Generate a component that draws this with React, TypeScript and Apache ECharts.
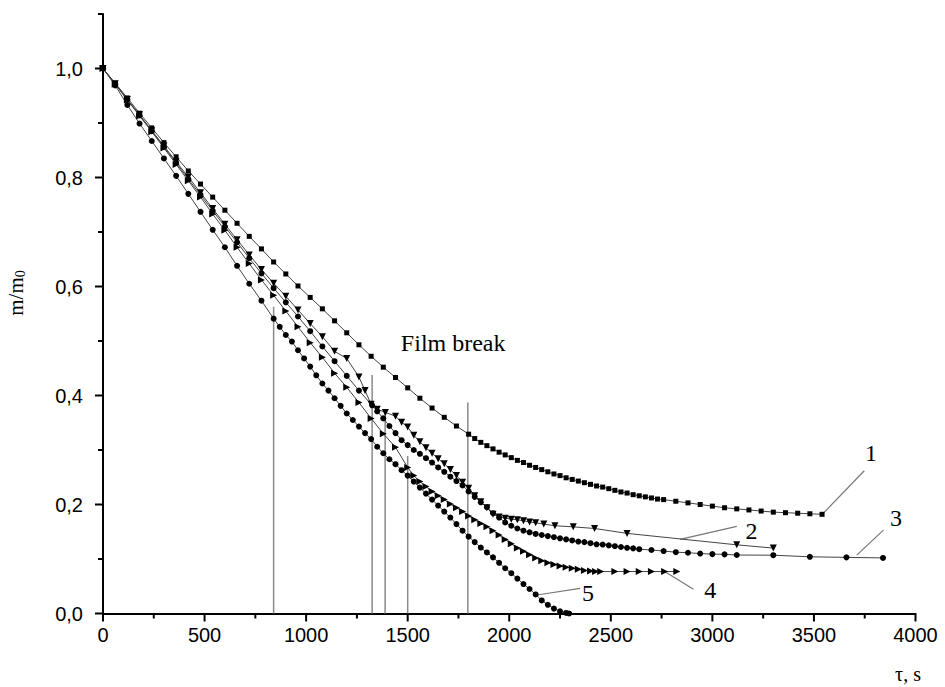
import React, { useEffect, useRef } from "react";
import * as echarts from "echarts";

// ---- data (time, s ; relative mass m/m0) ----
const s1Time = [0, 60, 120, 180, 240, 300, 360, 420, 480, 540, 600, 660, 720, 780, 840, 900, 960, 1020, 1080, 1140, 1200, 1260, 1320, 1380, 1440, 1500, 1560, 1620, 1680, 1740, 1800,
  1830, 1860, 1890, 1920, 1950, 1980, 2010, 2040, 2070, 2100, 2130, 2160, 2190, 2220, 2250, 2280, 2310, 2340, 2370, 2400, 2430, 2460, 2490, 2520, 2550, 2580, 2610, 2640, 2670, 2700, 2730, 2760,
  2820, 2880, 2940, 3000, 3060, 3120, 3180, 3240, 3300, 3360, 3420, 3480, 3540];
const s1Mass = [1.0, 0.973, 0.946, 0.918, 0.891, 0.864, 0.838, 0.812, 0.788, 0.764, 0.740, 0.716, 0.692, 0.669, 0.645, 0.623, 0.601, 0.580, 0.559, 0.537, 0.515, 0.493, 0.472, 0.452, 0.433, 0.414, 0.395, 0.377, 0.360, 0.344, 0.329,
  0.321, 0.314, 0.308, 0.302, 0.296, 0.291, 0.286, 0.281, 0.277, 0.272, 0.268, 0.264, 0.260, 0.256, 0.253, 0.249, 0.246, 0.243, 0.240, 0.237, 0.234, 0.232, 0.229, 0.226, 0.223, 0.221, 0.218, 0.216, 0.214, 0.212, 0.210, 0.209,
  0.206, 0.203, 0.200, 0.197, 0.194, 0.192, 0.190, 0.188, 0.186, 0.185, 0.184, 0.183, 0.182];

const s2Time = [0, 60, 120, 180, 240, 300, 360, 420, 480, 540, 600, 660, 720, 780, 840, 900, 960, 1020, 1080, 1140, 1200, 1260, 1290, 1320, 1350, 1390, 1440, 1470, 1500, 1530, 1560, 1590, 1620, 1650, 1680, 1710, 1740, 1770, 1800, 1830, 1860, 1890, 1920, 1950, 1980, 2010, 2040, 2070, 2100, 2130, 2170, 2225, 2315, 2420, 2580, 3120, 3300];
const s2Mass = [1.0, 0.972, 0.943, 0.915, 0.886, 0.858, 0.829, 0.801, 0.772, 0.743, 0.714, 0.686, 0.658, 0.631, 0.606, 0.582, 0.557, 0.532, 0.508, 0.481, 0.468, 0.434, 0.409, 0.384, 0.375, 0.369, 0.362, 0.351, 0.342, 0.327, 0.315, 0.304, 0.294, 0.284, 0.275, 0.264, 0.253, 0.241, 0.230, 0.216, 0.205, 0.194, 0.182, 0.177, 0.175, 0.173, 0.172, 0.170, 0.168, 0.1665, 0.164, 0.161, 0.159, 0.156, 0.147, 0.126, 0.120];

const s3Time = [0, 60, 120, 180, 240, 300, 360, 420, 480, 540, 600, 660, 720, 780, 840, 900, 960, 1020, 1080, 1140, 1200, 1260, 1325,
  1350, 1380, 1410, 1440, 1470, 1500, 1530, 1560, 1590, 1620, 1650, 1680, 1710, 1740, 1770, 1800, 1830, 1860, 1890, 1920, 1950, 1980, 2010, 2040, 2070, 2100, 2130, 2160, 2190, 2220, 2250, 2280, 2310, 2340, 2370, 2400, 2430, 2460, 2490, 2520, 2550, 2580, 2610, 2640,
  2700, 2760, 2820, 2880, 2940, 3000, 3060, 3120, 3300, 3480, 3660, 3840];
const s3Mass = [1.0, 0.972, 0.943, 0.914, 0.885, 0.856, 0.827, 0.797, 0.768, 0.739, 0.710, 0.681, 0.652, 0.624, 0.597, 0.571, 0.545, 0.518, 0.490, 0.463, 0.436, 0.409, 0.382,
  0.371, 0.358, 0.344, 0.331, 0.318, 0.309, 0.300, 0.293, 0.285, 0.277, 0.268, 0.260, 0.251, 0.243, 0.235, 0.224, 0.214, 0.204, 0.195, 0.184, 0.176, 0.167, 0.161, 0.156, 0.152, 0.149, 0.146, 0.144, 0.142, 0.140, 0.138, 0.136, 0.134, 0.132, 0.131, 0.129, 0.127, 0.1265, 0.125, 0.1235, 0.122, 0.1205, 0.1195, 0.118,
  0.1165, 0.1146, 0.1125, 0.1115, 0.110, 0.109, 0.1085, 0.1073, 0.107, 0.104, 0.103, 0.102];

const s4Time = [0, 60, 120, 180, 240, 300, 360, 420, 480, 540, 600, 660, 720, 780, 840, 900, 960, 1020, 1080, 1140, 1200, 1260, 1320, 1380, 1440, 1500,
  1530, 1560, 1590, 1620, 1650, 1680, 1710, 1740, 1770, 1800, 1830, 1860, 1890, 1920, 1950, 1980, 2010, 2040, 2070, 2100, 2130, 2160, 2190, 2220, 2250, 2280, 2310, 2340, 2370, 2400, 2425, 2450,
  2520, 2580, 2640, 2700, 2765, 2825];
const s4Mass = [1.0, 0.971, 0.942, 0.913, 0.884, 0.854, 0.824, 0.794, 0.764, 0.733, 0.703, 0.672, 0.642, 0.612, 0.584, 0.555, 0.526, 0.497, 0.470, 0.441, 0.415, 0.387, 0.358, 0.330, 0.305, 0.268,
  0.253, 0.242, 0.233, 0.224, 0.216, 0.209, 0.201, 0.194, 0.187, 0.179, 0.172, 0.165, 0.159, 0.152, 0.144, 0.136, 0.128, 0.120, 0.114, 0.108, 0.102, 0.097, 0.093, 0.090, 0.087, 0.085, 0.083, 0.081, 0.079, 0.078, 0.077, 0.077,
  0.077, 0.077, 0.077, 0.077, 0.077, 0.077];

const s5Time = [0, 60, 120, 180, 240, 300, 360, 420, 480, 540, 600, 660, 720, 780, 840,
  870, 900, 930, 960, 990, 1020, 1050, 1080, 1110, 1140, 1170, 1200, 1230, 1260, 1290, 1320, 1350, 1380, 1410, 1440, 1470, 1500, 1530, 1560, 1590, 1620, 1650, 1680, 1710, 1740, 1770, 1800,
  1830, 1860, 1890, 1920, 1950, 1980, 2010, 2040, 2070, 2100, 2130, 2160, 2190, 2220, 2250, 2280, 2295];
const s5Mass = [1.0, 0.969, 0.933, 0.899, 0.867, 0.835, 0.803, 0.770, 0.737, 0.704, 0.672, 0.638, 0.605, 0.574, 0.541,
  0.526, 0.511, 0.499, 0.483, 0.468, 0.453, 0.437, 0.422, 0.409, 0.395, 0.381, 0.367, 0.355, 0.343, 0.331, 0.320, 0.306, 0.294, 0.283, 0.274, 0.263, 0.253, 0.242, 0.231, 0.220, 0.209, 0.198, 0.187, 0.176, 0.164, 0.152, 0.141,
  0.131, 0.121, 0.112, 0.103, 0.093, 0.083, 0.074, 0.064, 0.054, 0.045, 0.035, 0.024, 0.016, 0.009, 0.004, 0.001, 0.0];

// film-break markers: time and top of the vertical line
const breakTimes = [840, 1325, 1389, 1500, 1796];
const breakTops = [0.563, 0.4375, 0.372, 0.289, 0.387];

// curve numbers with leader lines (data coordinates)
const curveNames = ["1", "2", "3", "4", "5"];
const curveLabelAt = [[3781, 0.294], [3193, 0.152], [3904, 0.175], [2989, 0.043], [2388, 0.0376]];
const leaderFrom = [[3541, 0.182], [2841, 0.136], [3711, 0.107], [2767, 0.0767], [2136, 0.034]];
const leaderTo = [[3748, 0.262], [3120, 0.160], [3842, 0.153], [2907, 0.0444], [2349, 0.046]];
const breakCaption = "Film break";
const breakCaptionAt = [1724, 0.496];

// axis ticks
const xMajorTicks = [0, 500, 1000, 1500, 2000, 2500, 3000, 3500, 4000];
const xMinorTicks = [250, 750, 1250, 1750, 2250, 2750, 3250, 3750];
const yMajorTicks = [0, 0.2, 0.4, 0.6, 0.8, 1.0];
const yMinorTicks = [0.1, 0.3, 0.5, 0.7, 0.9, 1.1];

const serif = "'Liberation Serif', 'Times New Roman', serif";
const sans = "'Liberation Sans', Arial, sans-serif";

function pair(t: number[], m: number[]) {
  return t.map((v, i) => [v, m[i]]);
}

export default function App() {
  const ref = useRef<HTMLDivElement>(null);
  useEffect(() => {
    if (!ref.current) return;
    const chart = echarts.init(ref.current, undefined, { renderer: "svg" });
    const lineStyle = { color: "#444", width: 1 };
    const itemStyle = { color: "#000" };
    const mk = (name: string, t: number[], m: number[], symbol: string, size: number, rot = 0) => ({
      name,
      type: "line",
      data: pair(t, m),
      symbol,
      symbolSize: size,
      symbolRotate: rot,
      showSymbol: true,
      lineStyle,
      itemStyle,
      z: 3,
    });
    // tick marks drawn through the axes' own scales
    const tickSeries = (vals: number[][], dir: "x" | "y", len: number) => ({
      type: "custom",
      silent: true,
      clip: false,
      z: 6,
      data: vals,
      encode: { x: 0, y: 1 },
      renderItem: (_p: any, api: any) => {
        const p = api.coord([api.value(0), api.value(1)]);
        const shape = dir === "x"
          ? { x1: p[0], y1: p[1], x2: p[0], y2: p[1] + len }
          : { x1: p[0] - len, y1: p[1], x2: p[0], y2: p[1] };
        return { type: "line", shape, style: { stroke: "#000", lineWidth: 2 } };
      },
    });
    const axisLine = { show: true, onZero: false, lineStyle: { color: "#000", width: 2 } };
    chart.setOption({
      animation: false,
      backgroundColor: "#fff",
      grid: { left: 103, right: 29.5, top: 14, bottom: 73.5, containLabel: false },
      xAxis: {
        type: "value", min: 0, max: 4000, interval: 500, position: "bottom",
        axisLine, splitLine: { show: false },
        axisTick: { show: false },
        axisLabel: { show: true, color: "#000", fontSize: 20, fontFamily: sans, margin: 11, formatter: (v: number) => String(v) },
      },
      yAxis: {
        type: "value", min: 0, max: 1.1, interval: 0.2, position: "left",
        axisLine, splitLine: { show: false },
        axisTick: { show: false },
        axisLabel: {
          show: true, showMaxLabel: false, color: "#000", fontSize: 20, fontFamily: sans, margin: 20,
          formatter: (v: number) => (v > 1.05 ? "" : v.toFixed(1).replace(".", ",")),
        },
      },
      series: [
        mk("1", s1Time, s1Mass, "rect", 5),
        mk("2", s2Time, s2Mass, "triangle", 7, 180),
        mk("3", s3Time, s3Mass, "circle", 6),
        mk("4", s4Time, s4Mass, "triangle", 7, -90),
        mk("5", s5Time, s5Mass, "circle", 6),
        tickSeries(xMajorTicks.map((v) => [v, 0]), "x", 8),
        tickSeries(xMinorTicks.map((v) => [v, 0]), "x", 5),
        tickSeries(yMajorTicks.map((v) => [0, v]), "y", 8),
        tickSeries(yMinorTicks.map((v) => [0, v]), "y", 5),
      ],
    });

    const px = (p: number[]) => chart.convertToPixel({ xAxisIndex: 0, yAxisIndex: 0 }, p) as number[];
    const graphics: any[] = [];
    breakTimes.forEach((t, i) => {
      const a = px([t, 0]);
      const b = px([t, breakTops[i]]);
      graphics.push({ type: "line", shape: { x1: a[0], y1: a[1], x2: b[0], y2: b[1] }, style: { stroke: "#8a8a8a", lineWidth: 1.5 }, z: 1 });
    });
    curveNames.forEach((n, i) => {
      const a = px(leaderFrom[i]);
      const b = px(leaderTo[i]);
      graphics.push({ type: "line", shape: { x1: a[0], y1: a[1], x2: b[0], y2: b[1] }, style: { stroke: "#777", lineWidth: 1.2 }, z: 2 });
      const c = px(curveLabelAt[i]);
      graphics.push({ type: "text", x: c[0], y: c[1], style: { text: n, fill: "#000", font: `24px ${serif}`, align: "center", verticalAlign: "middle" }, z: 5 });
    });
    const fc = px(breakCaptionAt);
    graphics.push({ type: "text", x: fc[0], y: fc[1], style: { text: breakCaption, fill: "#000", font: `24px ${serif}`, align: "center", verticalAlign: "middle" }, z: 5 });
    graphics.push({
      type: "text", x: 16, y: 293, rotation: Math.PI / 2,
      style: {
        text: "{a|m/m}{b|0}", align: "center", verticalAlign: "middle",
        rich: { a: { fontSize: 21, fontFamily: serif, fill: "#000" }, b: { fontSize: 14, fontFamily: serif, fill: "#000", padding: [9, 0, 0, 0] } },
      },
      z: 5,
    });
    graphics.push({ type: "text", x: 908, y: 674, style: { text: "τ, s", fill: "#000", font: `20px ${serif}`, align: "center", verticalAlign: "middle" }, z: 5 });
    chart.setOption({ graphic: graphics });

    return () => chart.dispose();
  }, []);
  return <div ref={ref} style={{ position: "absolute", left: 0, top: 0, width: 945, height: 687, background: "#fff" }} />;
}
